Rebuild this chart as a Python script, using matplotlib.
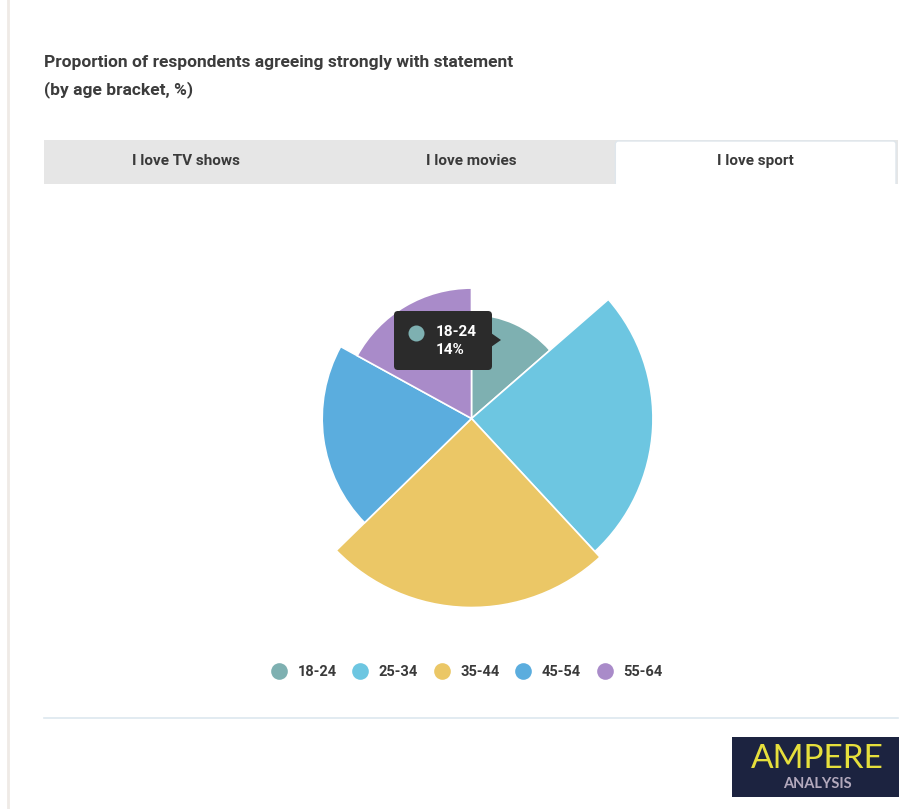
import matplotlib
matplotlib.use("Agg")
import matplotlib.pyplot as plt
from matplotlib.patches import Rectangle, FancyBboxPatch, Polygon, Circle
from matplotlib.lines import Line2D
import numpy as np

# data
age_groups = ["18-24", "25-34", "35-44", "45-54", "55-64"]
share_pct = [13.6, 24.5, 24.6, 20.3, 17.0]     # slice angle
z_values = [55, 96, 100, 79, 69]               # slice radius (relative)
colors = ["#7eb0b1", "#6dc6e1", "#ebc766", "#5badde", "#a98bc9"]
tabs = ["I love TV shows", "I love movies", "I love sport"]
active_tab = 2
title_lines = ["Proportion of respondents agreeing strongly with statement",
               "(by age bracket, %)"]
hover = 0  # tooltip on 18-24

W, H = 921, 809
fig = plt.figure(figsize=(W / 100, H / 100), dpi=100)
ax = fig.add_axes([0, 0, 1, 1])
plt.rcParams['font.family'] = ['Roboto', 'DejaVu Sans']

# pie (screen y is inverted, so start at -90 and go "counterclockwise" in data)
cx, cy, rmax = 471.5, 418.5, 189
wedges, _ = ax.pie(share_pct, colors=colors, startangle=-90, counterclock=True,
                   center=(cx, cy), radius=rmax, frame=True,
                   wedgeprops=dict(edgecolor="white", linewidth=1.2))
for w, z in zip(wedges, z_values):
    w.set_radius(rmax * z / max(z_values))

ax.set_xlim(0, W)
ax.set_ylim(H, 0)
ax.set_aspect("auto")
ax.axis("off")

# page border on the left
ax.plot([8, 8], [0, H], color="#efeae6", lw=2)

# title
for i, line in enumerate(title_lines):
    ax.text(44, 62 + i * 28, line, fontsize=12.5, fontweight="semibold",
            color="#3c3c3c", va="center", ha="left")

# tabs
x0, x1, ty0, ty1 = 44, 898, 140, 184
tab_w = (x1 - x0) / len(tabs)
ax.add_patch(Rectangle((x0, ty0), x1 - x0, ty1 - ty0, facecolor="#e6e6e6",
                       edgecolor="none", zorder=0))
ax.add_patch(FancyBboxPatch((x0 + active_tab * tab_w + 2, ty0 + 1), tab_w - 4, ty1 - ty0 + 10,
                            boxstyle="round,pad=0,rounding_size=3",
                            facecolor="white", edgecolor="#dfe6ec", lw=1, zorder=0.5))
ax.add_patch(Rectangle((x0 + active_tab * tab_w, ty1), tab_w, 12, facecolor="white",
                       edgecolor="none", zorder=0.6))
for i, t in enumerate(tabs):
    ax.text(x0 + (i + 0.5) * tab_w, 161, t, fontsize=11, fontweight="bold",
            color="#3a3a3a", ha="center", va="center")

# tooltip
bx0, bx1, by0, by1 = 394, 492, 311, 370
ax.add_patch(FancyBboxPatch((bx0, by0), bx1 - bx0, by1 - by0,
                            boxstyle="round,pad=0,rounding_size=4",
                            facecolor="#2b2b2b", edgecolor="none", zorder=5))
ax.add_patch(Polygon([[bx1 - 1, 333], [bx1 + 9, 340], [bx1 - 1, 347]],
                     closed=True, facecolor="#2b2b2b", edgecolor="none", zorder=5))
ax.add_patch(Circle((416.5, 333.5), 8, facecolor=colors[hover], edgecolor="none", zorder=6))
ax.text(436, 332, age_groups[hover], fontsize=11, fontweight="bold", color="white",
        va="center", ha="left", zorder=7)
ax.text(436, 350, f"{share_pct[hover]:.0f}%", fontsize=11, fontweight="bold",
        color="white", va="center", ha="left", zorder=7)

# legend
handles = [Line2D([], [], marker="o", ls="none", markersize=12, markerfacecolor=c,
                  markeredgecolor="none") for c in colors]
leg = ax.legend(handles, age_groups, loc="center", bbox_to_anchor=(467 / W, 1 - 672 / H),
                bbox_transform=fig.transFigure, ncol=5, frameon=False,
                handlelength=1.0, handletextpad=0.8, columnspacing=1.1,
                prop=dict(family="Roboto", weight="bold", size=10.5))
for t in leg.get_texts():
    t.set_color("#3a3a3a")

# separator
ax.plot([44, 898], [718, 718], color="#dde7ef", lw=1.2)

# logo
ax.add_patch(Rectangle((732, 737), 167, 60, facecolor="#1c2340", edgecolor="none"))
ax.text(817, 759, "AMPERE", fontsize=24, family="Lato", color="#e6df3c",
        ha="center", va="center")
ax.text(817, 784, "ANALYSIS", fontsize=10.5, family="Lato", fontweight="bold",
        color="#b3a9bd", ha="center", va="center")

fig.savefig("out.png", dpi=100)
